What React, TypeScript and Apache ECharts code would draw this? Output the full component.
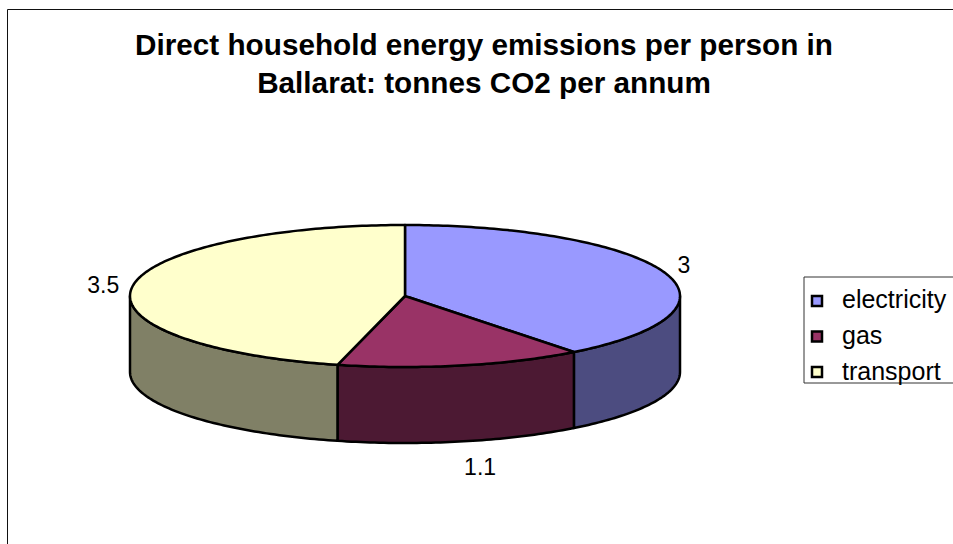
import React, { useEffect, useRef } from 'react';
import * as echarts from 'echarts';

const categories = ['electricity', 'gas', 'transport'];
const values = [3, 1.1, 3.5];
const topColors = ['#9999FF', '#993366', '#FFFFCC'];
const sideColors = ['#4C4C80', '#4C1933', '#808066'];
const titleLines = ['Direct household energy emissions per person in', 'Ballarat: tonnes CO2 per annum'];

const FONT = '"Liberation Sans", Arial, sans-serif';
const CX = 405, CY = 296, RX = 275, RY = 71, DEPTH = 76;
const LEGEND_LEFT = 804, LEGEND_TOP = 277, LEGEND_FIRST = 301, LEGEND_STEP = 35.5;

const total = values.reduce((a, b) => a + b, 0);
const starts: number[] = [];
{
  let acc = 0;
  values.forEach((v) => { starts.push(acc); acc += v; });
}

function pt(deg: number, dy = 0): number[] {
  const r = (deg * Math.PI) / 180;
  return [CX + RX * Math.sin(r), CY - RY * Math.cos(r) + dy];
}
function arc(a0: number, a1: number, dy = 0): number[][] {
  const pts: number[][] = [];
  const n = Math.max(2, Math.ceil(Math.abs(a1 - a0)));
  for (let i = 0; i <= n; i++) pts.push(pt(a0 + ((a1 - a0) * i) / n, dy));
  return pts;
}

function makeRender(i: number) {
  return (params: any, api: any) => {
    const v = api.value(0);
    const a0 = (starts[i] / total) * 360;
    const a1 = a0 + (v / total) * 360;
    const children: any[] = [];
    const s0 = Math.max(a0, 90), s1 = Math.min(a1, 270);
    if (s1 > s0) {
      children.push({
        type: 'polygon',
        shape: { points: [...arc(s0, s1), ...arc(s1, s0, DEPTH)] },
        style: { fill: sideColors[i], stroke: '#000', lineWidth: 2.5, lineJoin: 'round' },
        z2: 1,
      });
    }
    children.push({
      type: 'polygon',
      shape: { points: [[CX, CY], ...arc(a0, a1)] },
      style: { fill: topColors[i], stroke: '#000', lineWidth: 2.5, lineJoin: 'round' },
      z2: 2,
    });
    const m = ((a0 + a1) / 2) * Math.PI / 180;
    const s = Math.sin(m), c = Math.cos(m);
    const lx = CX + (RX + 13) * s;
    const ly = CY - (RY + 14) * c + (c < 0 ? DEPTH : 0) - (c > 0.2 ? 3 : 0);
    children.push({
      type: 'text',
      x: lx,
      y: ly,
      style: {
        text: String(v),
        fill: '#000',
        font: '23px ' + FONT,
        align: s >= 0 ? 'left' : 'right',
        verticalAlign: c < -0.5 ? 'top' : 'middle',
      },
      z2: 3,
    });
    return { type: 'group', children };
  };
}

export default function App() {
  const ref = useRef<HTMLDivElement>(null);
  useEffect(() => {
    if (!ref.current) return;
    const chart = echarts.init(ref.current, undefined, { renderer: 'svg' });
    const markers = categories.map((name, i) => ({
      type: 'rect',
      shape: { x: LEGEND_LEFT + 8, y: LEGEND_FIRST + i * LEGEND_STEP - 5, width: 10, height: 10 },
      style: { fill: topColors[i], stroke: '#000', lineWidth: 2.5 },
      silent: true,
      z: 20,
    }));
    chart.setOption({
      animation: false,
      backgroundColor: '#fff',
      title: {
        text: titleLines.join('\n'),
        left: 479,
        top: 20,
        textAlign: 'center',
        textStyle: { fontSize: 29.7, fontWeight: 'bold', fontFamily: FONT, lineHeight: 38, color: '#000' },
      },
      legend: {
        orient: 'vertical',
        left: LEGEND_LEFT,
        top: LEGEND_TOP,
        data: categories,
        icon: 'rect',
        itemWidth: 10,
        itemHeight: 10,
        itemGap: 11,
        padding: [9, 40, 0, 8],
        borderColor: '#333',
        borderWidth: 1,
        backgroundColor: '#fff',
        itemStyle: { opacity: 0 },
        textStyle: { fontSize: 25, fontFamily: FONT, color: '#000', padding: [0, 0, 0, 15] },
        selectedMode: false,
        z: 10,
      },
      graphic: [
        {
          type: 'rect',
          shape: { x: 7.5, y: 9.5, width: 954, height: 545 },
          style: { fill: 'none', stroke: '#111', lineWidth: 1 },
          silent: true,
          z: -1,
        },
        ...markers,
      ],
      series: categories.map((name, i) => ({
        type: 'custom',
        name,
        coordinateSystem: 'none',
        itemStyle: { color: topColors[i] },
        data: [{ value: [values[i]], name }],
        renderItem: makeRender(i),
      })),
    });
    return () => chart.dispose();
  }, []);
  return <div ref={ref} style={{ position: 'fixed', left: 0, top: 0, width: 953, height: 544 }} />;
}
